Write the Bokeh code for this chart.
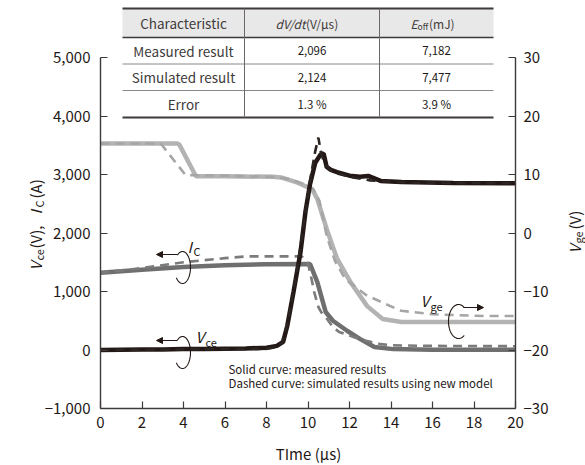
import numpy as np
from bokeh.plotting import figure
from bokeh.models import Range1d, LinearAxis, FixedTicker, Label, Arrow, NormalHead, ColumnDataSource
from bokeh.core.properties import value
from bokeh.embed import file_html
from bokeh.resources import INLINE

FONT = "Noto Sans CJK JP"
INK = "#231815"

# ---------------- data ----------------
# V_ce measured (solid, left axis, V)
vce_meas_t = [0, 1, 2, 3, 4, 5, 6, 7, 8, 8.5, 8.8, 9.0, 9.3, 9.64, 9.88, 10.1, 10.35, 10.6, 10.75,
              10.9, 11.1, 11.4, 12.0, 12.5, 12.9, 13.5, 14.5, 17, 20]
vce_meas_v = [0, 5, 10, 10, 15, 15, 20, 25, 40, 70, 140, 410, 990, 1675, 2370, 2840, 3200, 3340, 3360,
              3130, 3080, 3040, 2980, 2960, 2975, 2890, 2870, 2855, 2850]
# V_ce simulated (dashed)
vce_sim_t = [0, 8.0, 8.5, 8.75, 9.0, 9.3, 9.6, 9.9, 10.15, 10.35, 10.5, 10.62, 10.8, 11.2, 12, 13, 15, 20]
vce_sim_v = [0, 20, 50, 130, 430, 1000, 1680, 2420, 3000, 3400, 3630, 3380, 3180, 3040, 2960, 2900, 2860, 2850]

# I_C measured (solid, left axis, A)
ic_meas_t = [0, 2, 4, 6, 8, 10.1, 10.45, 10.85, 11.2, 11.9, 12.5, 13.2, 14.1, 16, 20]
ic_meas_v = [1320, 1370, 1420, 1450, 1465, 1470, 1160, 650, 500, 325, 190, 50, 15, 5, 5]
# I_C simulated (dashed)
ic_sim_t = [0, 2, 4, 6, 7, 9.7, 10.0, 10.15, 10.3, 10.5, 10.65, 10.85, 11.2, 11.5, 11.8, 12.2, 12.8, 13.5,
            14.1, 16, 20]
ic_sim_v = [1320, 1400, 1500, 1570, 1600, 1600, 1480, 1250, 990, 735, 640, 565, 393, 307, 270, 220, 160, 100,
            80, 70, 65]

# V_ge measured (solid, right axis, V)
vge_meas_t = [0, 3.7, 3.8, 4.6, 6, 8.3, 8.7, 9.5, 10.2, 10.45, 10.9, 11.4, 12.05, 12.85, 13.6, 14.5, 17, 20]
vge_meas_v = [15.3, 15.3, 15.1, 9.7, 9.7, 9.6, 9.5, 8.6, 7.5, 5.8, 0.7, -4.4, -8.4, -12.5, -14.7, -15.2,
              -15.2, -15.2]
# V_ge simulated (dashed)
vge_sim_t = [0, 2.9, 4.1, 6, 8.3, 9.0, 9.8, 10.25, 10.55, 10.9, 11.3, 11.8, 12.8, 13.65, 14.5, 16, 18.5, 20]
vge_sim_v = [15.3, 15.3, 9.9, 9.8, 9.6, 9.3, 8.4, 7.5, 5.5, -0.5, -4.8, -7.9, -10.6, -12.0, -13.3, -13.9,
             -14.2, -14.2]

x_ticks = [0, 2, 4, 6, 8, 10, 12, 14, 16, 18, 20]
left_ticks = [-1000, 0, 1000, 2000, 3000, 4000, 5000]
left_tick_labels = ["\u22121,000", "0", "1,000", "2,000", "3,000", "4,000", "5,000"]
right_ticks = [-30, -20, -10, 0, 10, 20, 30]
right_tick_labels = ["\u221230", "\u221220", "\u221210", "0", "10", "20", "30"]

# table
table_rows = ["Characteristic", "Measured result", "Simulated result", "Error"]
table_dvdt = ["2,096", "2,124", "1.3 %"]
table_eoff = ["7,182", "7,477", "3.9 %"]

# ---------------- layout helpers (page pixel -> data) ----------------
W, H = 585, 465


def X(px):
    return (px - 100) / 20.75


def Y(py):
    return 5000 + (57 - py) / 0.0585


def YR(py):
    return Y(py) / 100 - 20


p = figure(width=W, height=H, x_range=Range1d(X(0), X(W)), y_range=Range1d(Y(H), Y(0)),
           output_backend="svg", toolbar_location=None, title=None,
           min_border=0, min_border_left=0, min_border_right=0, min_border_top=0, min_border_bottom=0)
p.extra_y_ranges = {"vge": Range1d(YR(H), YR(0))}
p.outline_line_color = None
p.grid.visible = False
p.background_fill_color = "white"
p.border_fill_color = "white"


def style_axis(ax):
    ax.axis_line_color = "#3e3a39"
    ax.axis_line_width = 1.4
    ax.major_tick_line_color = "#3e3a39"
    ax.major_tick_line_width = 1.2
    ax.major_tick_in = 7
    ax.major_tick_out = 0
    ax.minor_tick_line_color = None
    ax.major_label_text_font = FONT
    ax.major_label_text_font_size = "15px"
    ax.major_label_text_color = INK


xa = p.xaxis[0]
style_axis(xa)
xa.ticker = FixedTicker(ticks=x_ticks)
xa.major_label_standoff = 8
xa.bounds = (0, 20)
xa.fixed_location = -1000

ya = p.yaxis[0]
style_axis(ya)
ya.ticker = FixedTicker(ticks=left_ticks)
ya.major_label_overrides = {t: l for t, l in zip(left_ticks, left_tick_labels)}
ya.bounds = (-1000, 5000)
ya.major_label_standoff = 10
ya.fixed_location = 0

ra = LinearAxis(y_range_name="vge")
style_axis(ra)
ra.ticker = FixedTicker(ticks=right_ticks)
ra.major_label_overrides = {t: l for t, l in zip(right_ticks, right_tick_labels)}
ra.bounds = (-30, 30)
ra.major_label_standoff = 8
ra.fixed_location = 20
p.add_layout(ra, "right")

# ---------------- curves ----------------
p.line(vge_meas_t, vge_meas_v, y_range_name="vge", line_color="#b3b3b3", line_width=4.5)
p.line(vge_sim_t, vge_sim_v, y_range_name="vge", line_color="#a6a6a6", line_width=2.6, line_dash="9 6")
p.line(ic_meas_t, ic_meas_v, line_color="#6f6f6f", line_width=4.5)
p.line(ic_sim_t, ic_sim_v, line_color="#7b7b7b", line_width=2.6, line_dash="9 6")
p.line(vce_meas_t, vce_meas_v, line_color="#231815", line_width=4.5)
p.line(vce_sim_t, vce_sim_v, line_color="#2a2422", line_width=2.6, line_dash="9 6")


# ---------------- annotations ----------------
def lab(px, py, text, size, style="normal", align="left", baseline="middle", angle=0.0, color=INK):
    p.add_layout(Label(x=X(px), y=Y(py), text=text, text_font=FONT, text_font_size=size,
                       text_font_style=style, text_align=align, text_baseline=baseline,
                       angle=angle, text_color=color))


def loop(cx, cy, rx, ry, a0, a1):
    th = np.radians(np.linspace(a0, a1, 60))
    xs = [X(cx + rx * np.cos(t)) for t in th]
    ys = [Y(cy - ry * np.sin(t)) for t in th]
    p.line(xs, ys, line_color=INK, line_width=1.1)


def arrow(x0, y0, x1, y1):
    p.add_layout(Arrow(end=NormalHead(size=6, fill_color=INK, line_color=INK),
                       x_start=X(x0), y_start=Y(y0), x_end=X(x1), y_end=Y(y1),
                       line_color=INK, line_width=1.1))


# I_C
lab(187, 246, "I", "15px", "italic")
lab(193, 250, "C", "11px")
loop(182, 267, 8, 16, 130, -140)
arrow(177, 254, 156, 254)
# V_ce
lab(195, 336, "V", "15px", "italic")
lab(205, 341, "ce", "11px")
loop(182, 352, 8, 16, 130, -140)
arrow(177, 340, 156, 340)
# V_ge
lab(420, 300, "V", "15px", "italic")
lab(430, 305, "ge", "11px")
loop(458, 321, 10, 17, 55, 305)
arrow(463, 307, 483, 307)

# notes
lab(228, 368, "Solid curve: measured results", "11.5px")
lab(228, 382, "Dashed curve: simulated results using new model", "11.5px")

# axis titles
lab(308, 453, "TIme (\u03bcs)", "15px", align="center")
A = np.pi / 2
lab(35, 270, "V", "15px", "italic", baseline="alphabetic", angle=A)
lab(38, 260, "ce", "11px", baseline="alphabetic", angle=A)
lab(35, 248, "(V),", "15px", baseline="alphabetic", angle=A)
lab(35, 214, "I", "15px", "italic", baseline="alphabetic", angle=A)
lab(38, 207, "C", "11px", baseline="alphabetic", angle=A)
lab(35, 198, "(A)", "15px", baseline="alphabetic", angle=A)

lab(574, 253, "V", "15px", "italic", baseline="alphabetic", angle=A)
lab(577, 243, "ge", "11px", baseline="alphabetic", angle=A)
lab(574, 229, "(V)", "15px", baseline="alphabetic", angle=A)

# ---------------- table ----------------
TL, TC1, TC2, TR = 122, 244, 379, 493
ROWS = [8, 37, 63.5, 90, 117]
p.quad(left=[X(TL)], right=[X(TR)], top=[Y(ROWS[0])], bottom=[Y(ROWS[-1])], fill_color="white", line_color=None)
p.quad(left=[X(TL)], right=[X(TR)], top=[Y(ROWS[0])], bottom=[Y(ROWS[1])], fill_color="#e8e8e8", line_color=None)
for i, r in enumerate(ROWS):
    w = 2.0 if i in (0, 4) else (1.4 if i == 1 else 1.0)
    c = "#3e3a39" if i in (0, 1, 4) else "#8a8888"
    p.segment(x0=[X(TL)], y0=[Y(r)], x1=[X(TR)], y1=[Y(r)], line_color=c, line_width=w)
for cx in (TC1, TC2):
    p.segment(x0=[X(cx)], y0=[Y(ROWS[0])], x1=[X(cx)], y1=[Y(ROWS[-1])], line_color="#6a6868", line_width=1.0)

row_mid = [(ROWS[i] + ROWS[i + 1]) / 2 for i in range(4)]
src1 = ColumnDataSource(dict(x=[X((TL + TC1) / 2)] * 4, y=[Y(m) for m in row_mid], t=table_rows))
p.text(x="x", y="y", text="t", source=src1, text_font=value(FONT), text_font_size="13.5px",
       text_align="center", text_baseline="middle", text_color="#3e3a39")
src2 = ColumnDataSource(dict(x=[X((TC1 + TC2) / 2)] * 3 + [X((TC2 + TR) / 2)] * 3,
                             y=[Y(m) for m in row_mid[1:]] * 2, t=table_dvdt + table_eoff))
p.text(x="x", y="y", text="t", source=src2, text_font=value(FONT), text_font_size="11.5px",
       text_align="center", text_baseline="middle", text_color="#231815")

hm = row_mid[0]
lab(305, hm, "dV/dt", "12px", "italic", align="right", color="#3e3a39")
lab(305.5, hm, "(V/\u03bcs)", "12px", color="#3e3a39")
lab(410, hm, "E", "12px", "italic", color="#3e3a39")
lab(417, hm + 3, "off", "8.5px", color="#3e3a39")
lab(428.5, hm, "(mJ)", "12px", color="#3e3a39")

open("out.html", "w").write(file_html(p, INLINE))
